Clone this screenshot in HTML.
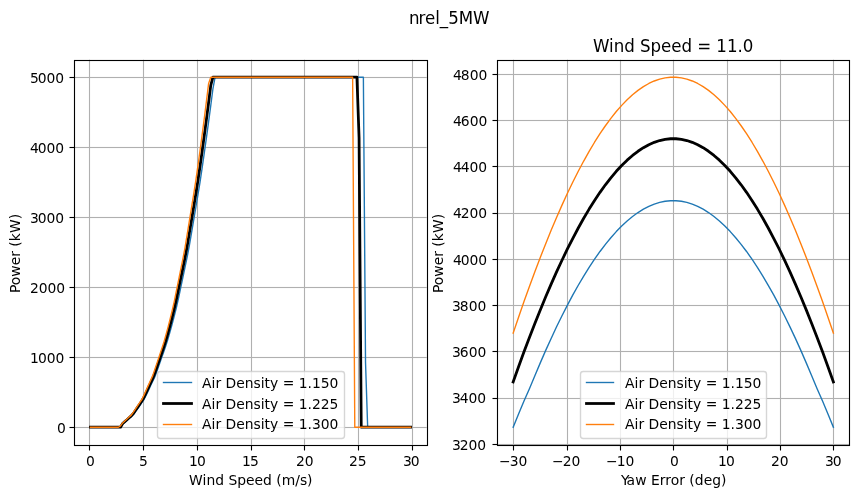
<!DOCTYPE html>
<html lang="en"><head><meta charset="utf-8"><title>nrel_5MW</title>
<style>
html,body{margin:0;padding:0;background:#fff;}
body{width:859px;height:498px;overflow:hidden;}
svg{display:block;will-change:transform;}
svg text{font-family:"DejaVu Sans","Liberation Sans",sans-serif;fill:#000;white-space:pre;}
.grid{fill:#b0b0b0;stroke:none;}
.tick{fill:#000;stroke:none;}
.fringe{fill-opacity:0.0556;}
.frame{stroke:#000;stroke-width:1.111;fill:none;stroke-linejoin:miter;}
.curve{fill:none;stroke-linejoin:round;stroke-linecap:square;}
.legbox{fill:#fff;fill-opacity:0.8;stroke:#ccc;stroke-opacity:0.8;stroke-width:1.389;stroke-linejoin:miter;}
</style></head><body>
<svg width="859" height="498" viewBox="0 0 859 498">
<rect x="0" y="0" width="859" height="498" fill="#fff"/>
<text transform="translate(0 24) scale(1 1.07)" x="409 418.5 425 435.25 439.875 448.25 458.75 473.125" y="0" font-size="16.667">nrel_5MW</text>
<g id="axes1">
<clipPath id="clip1"><rect x="74.403" y="59.722" width="352.273" height="385"/></clipPath>
<path class="grid" d="M88.944 59.722h1.111V444.722h-1.111zM142.944 59.722h1.111V444.722h-1.111zM196.944 59.722h1.111V444.722h-1.111zM250.944 59.722h1.111V444.722h-1.111zM303.944 59.722h1.111V444.722h-1.111zM357.944 59.722h1.111V444.722h-1.111zM411.944 59.722h1.111V444.722h-1.111zM74.403 426.944H426.676v1.111H74.403zM74.403 356.944H426.676v1.111H74.403zM74.403 286.944H426.676v1.111H74.403zM74.403 216.944H426.676v1.111H74.403zM74.403 146.944H426.676v1.111H74.403zM74.403 76.944H426.676v1.111H74.403z"/>
<path class="grid fringe" d="M74.403 426H426.676v1H74.403zM74.403 428H426.676v1H74.403zM74.403 356H426.676v1H74.403zM74.403 358H426.676v1H74.403zM74.403 286H426.676v1H74.403zM74.403 288H426.676v1H74.403zM74.403 216H426.676v1H74.403zM74.403 218H426.676v1H74.403zM74.403 146H426.676v1H74.403zM74.403 148H426.676v1H74.403zM74.403 76H426.676v1H74.403zM74.403 78H426.676v1H74.403z"/>
<g clip-path="url(#clip1)">
<polyline class="curve" stroke="#1f77b4" stroke-width="1.389" points="90.415,427.222 92.564,427.222 94.714,427.222 96.863,427.222 99.012,427.222 101.162,427.222 103.311,427.222 105.46,427.222 107.61,427.222 109.759,427.222 111.908,427.222 114.058,427.222 116.207,427.222 118.356,427.222 120.506,427.222 122.655,424.142 124.804,422.268 126.954,420.394 129.103,418.52 131.252,416.646 133.401,414.764 135.551,411.673 137.7,408.582 139.849,405.491 141.999,402.4 144.148,399.309 146.297,394.921 148.447,390.362 150.596,385.803 152.745,381.244 154.895,376.684 157.044,370.921 159.193,364.779 161.343,358.636 163.492,352.493 165.641,346.35 167.791,339.568 169.94,332.146 172.089,324.367 174.238,316.182 176.388,307.587 178.537,297.996 180.686,287.784 182.836,277.573 184.985,267.361 187.134,257.15 189.284,245.965 191.433,233.261 193.582,220.556 195.732,207.852 197.881,195.148 200.03,182.05 202.18,167.617 204.329,152.759 206.478,137.451 208.627,121.695 210.777,105.473 212.926,88.778 215.075,77.222 217.225,77.222 219.374,77.222 221.523,77.222 223.673,77.222 225.822,77.222 227.971,77.222 230.121,77.222 232.27,77.222 234.419,77.222 236.569,77.222 238.718,77.222 240.867,77.222 243.017,77.222 245.166,77.222 247.315,77.222 249.464,77.222 251.614,77.222 253.763,77.222 255.912,77.222 258.062,77.222 260.211,77.222 262.36,77.222 264.51,77.222 266.659,77.222 268.808,77.222 270.958,77.222 273.107,77.222 275.256,77.222 277.406,77.222 279.555,77.222 281.704,77.222 283.854,77.222 286.003,77.222 288.152,77.222 290.301,77.222 292.451,77.222 294.6,77.222 296.749,77.222 298.899,77.222 301.048,77.222 303.197,77.222 305.347,77.222 307.496,77.222 309.645,77.222 311.795,77.222 313.944,77.222 316.093,77.222 318.243,77.222 320.392,77.222 322.541,77.222 324.691,77.222 326.84,77.222 328.989,77.222 331.138,77.222 333.288,77.222 335.437,77.222 337.586,77.222 339.736,77.222 341.885,77.222 344.034,77.222 346.184,77.222 348.333,77.222 350.482,77.222 352.632,77.222 354.781,77.222 356.93,77.222 359.08,77.222 361.229,77.222 363.378,77.222 365.527,362.43 367.677,427.222 369.826,427.222 371.975,427.222 374.125,427.222 376.274,427.222 378.423,427.222 380.573,427.222 382.722,427.222 384.871,427.222 387.021,427.222 389.17,427.222 391.319,427.222 393.469,427.222 395.618,427.222 397.767,427.222 399.917,427.222 402.066,427.222 404.215,427.222 406.364,427.222 408.514,427.222 410.663,427.222"/>
<polyline class="curve" stroke="#000000" stroke-width="2.778" points="90.415,427.222 92.564,427.222 94.714,427.222 96.863,427.222 99.012,427.222 101.162,427.222 103.311,427.222 105.46,427.222 107.61,427.222 109.759,427.222 111.908,427.222 114.058,427.222 116.207,427.222 118.356,427.222 120.506,427.222 122.655,423.524 124.804,421.61 126.954,419.696 129.103,417.783 131.252,415.869 133.401,413.416 135.551,410.259 137.7,407.102 139.849,403.945 141.999,400.789 144.148,397.006 146.297,392.35 148.447,387.693 150.596,383.037 152.745,378.381 154.895,373.077 157.044,366.803 159.193,360.53 161.343,354.256 163.492,347.983 165.641,341.328 167.791,333.833 169.94,325.967 172.089,317.685 174.238,308.979 176.388,299.406 178.537,288.977 180.686,278.548 182.836,268.119 184.985,257.69 187.134,246.367 189.284,233.392 191.433,220.417 193.582,207.443 195.732,194.468 197.881,180.99 200.03,166.21 202.18,150.987 204.329,135.289 206.478,119.133 208.627,102.48 210.777,85.354 212.926,77.222 215.075,77.222 217.225,77.222 219.374,77.222 221.523,77.222 223.673,77.222 225.822,77.222 227.971,77.222 230.121,77.222 232.27,77.222 234.419,77.222 236.569,77.222 238.718,77.222 240.867,77.222 243.017,77.222 245.166,77.222 247.315,77.222 249.464,77.222 251.614,77.222 253.763,77.222 255.912,77.222 258.062,77.222 260.211,77.222 262.36,77.222 264.51,77.222 266.659,77.222 268.808,77.222 270.958,77.222 273.107,77.222 275.256,77.222 277.406,77.222 279.555,77.222 281.704,77.222 283.854,77.222 286.003,77.222 288.152,77.222 290.301,77.222 292.451,77.222 294.6,77.222 296.749,77.222 298.899,77.222 301.048,77.222 303.197,77.222 305.347,77.222 307.496,77.222 309.645,77.222 311.795,77.222 313.944,77.222 316.093,77.222 318.243,77.222 320.392,77.222 322.541,77.222 324.691,77.222 326.84,77.222 328.989,77.222 331.138,77.222 333.288,77.222 335.437,77.222 337.586,77.222 339.736,77.222 341.885,77.222 344.034,77.222 346.184,77.222 348.333,77.222 350.482,77.222 352.632,77.222 354.781,77.222 356.93,77.222 359.08,137.68 361.229,427.222 363.378,427.222 365.527,427.222 367.677,427.222 369.826,427.222 371.975,427.222 374.125,427.222 376.274,427.222 378.423,427.222 380.573,427.222 382.722,427.222 384.871,427.222 387.021,427.222 389.17,427.222 391.319,427.222 393.469,427.222 395.618,427.222 397.767,427.222 399.917,427.222 402.066,427.222 404.215,427.222 406.364,427.222 408.514,427.222 410.663,427.222"/>
<polyline class="curve" stroke="#ff7f0e" stroke-width="1.389" points="90.415,427.222 92.564,427.222 94.714,427.222 96.863,427.222 99.012,427.222 101.162,427.222 103.311,427.222 105.46,427.222 107.61,427.222 109.759,427.222 111.908,427.222 114.058,427.222 116.207,427.222 118.356,427.222 120.506,425.853 122.655,422.931 124.804,420.978 126.954,419.026 129.103,417.074 131.252,415.122 133.401,412.121 135.551,408.901 137.7,405.681 139.849,402.461 141.999,399.241 144.148,394.631 146.297,389.881 148.447,385.132 150.596,380.383 152.745,375.633 154.895,369.249 157.044,362.85 159.193,356.451 161.343,350.052 163.492,343.579 165.641,336.049 167.791,328.13 169.94,319.795 172.089,311.02 174.238,301.593 176.388,290.956 178.537,280.318 180.686,269.681 182.836,259.043 184.985,247.791 187.134,234.557 189.284,221.323 191.433,208.088 193.582,194.854 195.732,181.131 197.881,166.057 200.03,150.52 202.18,134.489 204.329,117.983 206.478,100.956 208.627,83.449 210.777,77.222 212.926,77.222 215.075,77.222 217.225,77.222 219.374,77.222 221.523,77.222 223.673,77.222 225.822,77.222 227.971,77.222 230.121,77.222 232.27,77.222 234.419,77.222 236.569,77.222 238.718,77.222 240.867,77.222 243.017,77.222 245.166,77.222 247.315,77.222 249.464,77.222 251.614,77.222 253.763,77.222 255.912,77.222 258.062,77.222 260.211,77.222 262.36,77.222 264.51,77.222 266.659,77.222 268.808,77.222 270.958,77.222 273.107,77.222 275.256,77.222 277.406,77.222 279.555,77.222 281.704,77.222 283.854,77.222 286.003,77.222 288.152,77.222 290.301,77.222 292.451,77.222 294.6,77.222 296.749,77.222 298.899,77.222 301.048,77.222 303.197,77.222 305.347,77.222 307.496,77.222 309.645,77.222 311.795,77.222 313.944,77.222 316.093,77.222 318.243,77.222 320.392,77.222 322.541,77.222 324.691,77.222 326.84,77.222 328.989,77.222 331.138,77.222 333.288,77.222 335.437,77.222 337.586,77.222 339.736,77.222 341.885,77.222 344.034,77.222 346.184,77.222 348.333,77.222 350.482,77.222 352.632,77.222 354.781,427.222 356.93,427.222 359.08,427.222 361.229,427.222 363.378,427.222 365.527,427.222 367.677,427.222 369.826,427.222 371.975,427.222 374.125,427.222 376.274,427.222 378.423,427.222 380.573,427.222 382.722,427.222 384.871,427.222 387.021,427.222 389.17,427.222 391.319,427.222 393.469,427.222 395.618,427.222 397.767,427.222 399.917,427.222 402.066,427.222 404.215,427.222 406.364,427.222 408.514,427.222 410.663,427.222"/>
</g>
<path class="tick" d="M88.944 445.5h1.111v5h-1.111zM142.944 445.5h1.111v5h-1.111zM196.944 445.5h1.111v5h-1.111zM250.944 445.5h1.111v5h-1.111zM303.944 445.5h1.111v5h-1.111zM357.944 445.5h1.111v5h-1.111zM411.944 445.5h1.111v5h-1.111zM69.5 426.944h5v1.111h-5zM69.5 356.944h5v1.111h-5zM69.5 286.944h5v1.111h-5zM69.5 216.944h5v1.111h-5zM69.5 146.944h5v1.111h-5zM69.5 76.944h5v1.111h-5z"/>
<path class="tick fringe" d="M69.5 426H73.944v1H69.5zM69.5 428H73.944v1H69.5zM69.5 356H73.944v1H69.5zM69.5 358H73.944v1H69.5zM69.5 286H73.944v1H69.5zM69.5 288H73.944v1H69.5zM69.5 216H73.944v1H69.5zM69.5 218H73.944v1H69.5zM69.5 146H73.944v1H69.5zM69.5 148H73.944v1H69.5zM69.5 76H73.944v1H69.5zM69.5 78H73.944v1H69.5z"/>
<rect class="frame" x="74.5" y="60.5" width="353" height="385"/>
<g class="xticklabels">
<text x="86" y="466" font-size="13.889">0</text>
<text x="139" y="466" font-size="13.889">5</text>
<text x="189 196.875" y="466" font-size="13.889">10</text>
<text x="242 249.875" y="466" font-size="13.889">15</text>
<text x="296 304.75" y="466" font-size="13.889">20</text>
<text x="349 357.75" y="466" font-size="13.889">25</text>
<text x="403 410.75" y="466" font-size="13.889">30</text>
</g><g class="yticklabels">
<text x="57" y="433" font-size="13.889">0</text>
<text x="30 37.875 46.625 55.375" y="363" font-size="13.889">1000</text>
<text x="30 38.75 47.5 56.25" y="293" font-size="13.889">2000</text>
<text x="30 37.75 46.5 55.25" y="223" font-size="13.889">3000</text>
<text x="30 37.75 46.5 55.25" y="153" font-size="13.889">4000</text>
<text x="30 37.75 46.5 55.25" y="83" font-size="13.889">5000</text>
</g>
<text x="189 202.5 206.375 215.125 224 228.375 237.125 246 254.5 263 271.875 276.25 281.75 295.25 299.875 307" y="485" font-size="13.889">Wind Speed (m/s)</text>
<text transform="translate(20 293) rotate(-90)" x="0 7.875 16.375 27.75 36.25 42 46.375 51.875 60 73.75" y="0" font-size="13.889">Power (kW)</text>
<g class="legend">
<rect class="legbox" x="157.5" y="371.5" width="187" height="67" rx="2.778" ry="2.778"/>
<path class="curve" stroke="#1f77b4" stroke-width="1.389" d="M163.5 382.5H191.5"/>
<text x="202 211.5 215.375 221.125 225.5 236.25 244.75 253.5 260.625 264.5 270 278.25 282.625 294.25 298.625 307.5 311.875 320.75 329.5" y="388" font-size="13.889">Air Density = 1.150</text>
<path class="curve" stroke="#000000" stroke-width="2.778" d="M163.5 403.5H191.5"/>
<text x="202 211.5 215.375 221.125 225.5 236.25 244.75 253.5 260.625 264.5 270 278.25 282.625 294.25 298.625 307.5 311.875 320.625 329.375" y="409" font-size="13.889">Air Density = 1.225</text>
<path class="curve" stroke="#ff7f0e" stroke-width="1.389" d="M163.5 424.5H191.5"/>
<text x="202 211.5 215.375 221.125 225.5 236.25 244.75 253.5 260.625 264.5 270 278.25 282.625 294.25 298.625 307.5 311.875 320.625 329.375" y="429" font-size="13.889">Air Density = 1.300</text>
</g>
</g>
<g id="axes2">
<clipPath id="clip2"><rect x="497.13" y="59.722" width="352.273" height="385"/></clipPath>
<path class="grid" d="M512.944 59.722h1.111V444.722h-1.111zM566.944 59.722h1.111V444.722h-1.111zM619.944 59.722h1.111V444.722h-1.111zM672.944 59.722h1.111V444.722h-1.111zM726.944 59.722h1.111V444.722h-1.111zM779.944 59.722h1.111V444.722h-1.111zM832.944 59.722h1.111V444.722h-1.111zM497.13 443.944H849.403v1.111H497.13zM497.13 397.944H849.403v1.111H497.13zM497.13 350.944H849.403v1.111H497.13zM497.13 304.944H849.403v1.111H497.13zM497.13 258.944H849.403v1.111H497.13zM497.13 212.944H849.403v1.111H497.13zM497.13 165.944H849.403v1.111H497.13zM497.13 119.944H849.403v1.111H497.13zM497.13 73.944H849.403v1.111H497.13z"/>
<path class="grid fringe" d="M497.13 443H849.403v1H497.13zM497.13 445H849.403v1H497.13zM497.13 397H849.403v1H497.13zM497.13 399H849.403v1H497.13zM497.13 350H849.403v1H497.13zM497.13 352H849.403v1H497.13zM497.13 304H849.403v1H497.13zM497.13 306H849.403v1H497.13zM497.13 258H849.403v1H497.13zM497.13 260H849.403v1H497.13zM497.13 212H849.403v1H497.13zM497.13 214H849.403v1H497.13zM497.13 165H849.403v1H497.13zM497.13 167H849.403v1H497.13zM497.13 119H849.403v1H497.13zM497.13 121H849.403v1H497.13zM497.13 73H849.403v1H497.13zM497.13 75H849.403v1H497.13z"/>
<g clip-path="url(#clip2)">
<polyline class="curve" stroke="#1f77b4" stroke-width="1.389" points="513.142,427.222 518.57,413.91 523.998,401.064 529.426,388.684 534.854,375.66 540.282,362.882 545.71,350.389 551.138,338.412 556.566,326.821 561.994,315.754 567.422,305.097 572.85,294.938 578.278,285.274 583.706,276.044 589.133,267.359 594.561,259.174 599.989,251.472 605.417,244.321 610.845,237.721 616.273,231.586 621.701,225.988 627.129,220.95 632.557,216.473 637.985,212.556 643.413,209.189 648.841,206.359 654.269,204.096 659.697,202.399 665.125,201.267 670.552,200.701 675.98,200.701 681.408,201.267 686.836,202.399 692.264,204.096 697.692,206.359 703.12,209.189 708.548,212.556 713.976,216.473 719.404,220.95 724.832,225.988 730.26,231.586 735.688,237.721 741.116,244.321 746.543,251.472 751.971,259.174 757.399,267.359 762.827,276.044 768.255,285.274 773.683,294.938 779.111,305.097 784.539,315.754 789.967,326.821 795.395,338.412 800.823,350.389 806.251,362.882 811.679,375.66 817.107,388.684 822.535,401.064 827.962,413.91 833.39,427.222"/>
<polyline class="curve" stroke="#000000" stroke-width="2.778" points="513.142,381.86 518.57,366.688 523.998,351.845 529.426,337.452 534.854,323.427 540.282,309.901 545.71,296.77 551.138,284.132 556.566,271.913 561.994,260.224 567.422,248.968 572.85,238.278 578.278,228.004 583.706,218.271 589.133,209.103 594.561,200.422 599.989,192.322 605.417,184.802 610.845,177.776 616.273,171.315 621.701,165.442 627.129,160.158 632.557,155.449 637.985,151.274 643.413,147.696 648.841,144.715 654.269,142.33 659.697,140.541 665.125,139.349 670.552,138.752 675.98,138.752 681.408,139.349 686.836,140.541 692.264,142.33 697.692,144.715 703.12,147.696 708.548,151.274 713.976,155.449 719.404,160.158 724.832,165.442 730.26,171.315 735.688,177.776 741.116,184.802 746.543,192.322 751.971,200.422 757.399,209.103 762.827,218.271 768.255,228.004 773.683,238.278 779.111,248.968 784.539,260.224 789.967,271.913 795.395,284.132 800.823,296.77 806.251,309.901 811.679,323.427 817.107,337.452 822.535,351.845 827.962,366.688 833.39,381.86"/>
<polyline class="curve" stroke="#ff7f0e" stroke-width="1.389" points="513.142,333.14 518.57,317.156 523.998,301.56 529.426,286.446 534.854,271.689 540.282,257.439 545.71,243.64 551.138,230.312 556.566,217.444 561.994,205.11 567.422,193.288 572.85,182.04 578.278,171.24 583.706,161.043 589.133,151.372 594.561,142.237 599.989,133.712 605.417,125.753 610.845,118.337 616.273,111.54 621.701,105.362 627.129,99.789 632.557,94.773 637.985,90.385 643.413,86.624 648.841,83.49 654.269,80.983 659.697,79.102 665.125,77.849 670.552,77.222 675.98,77.222 681.408,77.849 686.836,79.102 692.264,80.983 697.692,83.49 703.12,86.624 708.548,90.385 713.976,94.773 719.404,99.789 724.832,105.362 730.26,111.54 735.688,118.337 741.116,125.753 746.543,133.712 751.971,142.237 757.399,151.372 762.827,161.043 768.255,171.24 773.683,182.04 779.111,193.288 784.539,205.11 789.967,217.444 795.395,230.312 800.823,243.64 806.251,257.439 811.679,271.689 817.107,286.446 822.535,301.56 827.962,317.156 833.39,333.14"/>
</g>
<path class="tick" d="M512.944 445.5h1.111v5h-1.111zM566.944 445.5h1.111v5h-1.111zM619.944 445.5h1.111v5h-1.111zM672.944 445.5h1.111v5h-1.111zM726.944 445.5h1.111v5h-1.111zM779.944 445.5h1.111v5h-1.111zM832.944 445.5h1.111v5h-1.111zM492.5 443.944h5v1.111h-5zM492.5 397.944h5v1.111h-5zM492.5 350.944h5v1.111h-5zM492.5 304.944h5v1.111h-5zM492.5 258.944h5v1.111h-5zM492.5 212.944h5v1.111h-5zM492.5 165.944h5v1.111h-5zM492.5 119.944h5v1.111h-5zM492.5 73.944h5v1.111h-5z"/>
<path class="tick fringe" d="M492.5 443H496.944v1H492.5zM492.5 445H496.944v1H492.5zM492.5 397H496.944v1H492.5zM492.5 399H496.944v1H492.5zM492.5 350H496.944v1H492.5zM492.5 352H496.944v1H492.5zM492.5 304H496.944v1H492.5zM492.5 306H496.944v1H492.5zM492.5 258H496.944v1H492.5zM492.5 260H496.944v1H492.5zM492.5 212H496.944v1H492.5zM492.5 214H496.944v1H492.5zM492.5 165H496.944v1H492.5zM492.5 167H496.944v1H492.5zM492.5 119H496.944v1H492.5zM492.5 121H496.944v1H492.5zM492.5 73H496.944v1H492.5zM492.5 75H496.944v1H492.5z"/>
<rect class="frame" x="497.5" y="60.5" width="352" height="385"/>
<g class="xticklabels">
<text x="499 509.625 518.375" y="466" font-size="13.889">−30</text>
<text x="552 562.625 571.375" y="466" font-size="13.889">−20</text>
<text x="606 616.625 625.5" y="466" font-size="13.889">−10</text>
<text x="670" y="466" font-size="13.889">0</text>
<text x="718 725.875" y="466" font-size="13.889">10</text>
<text x="771 779.75" y="466" font-size="13.889">20</text>
<text x="825 832.75" y="466" font-size="13.889">30</text>
</g><g class="yticklabels">
<text x="452 459.75 468.5 477.25" y="450" font-size="13.889">3200</text>
<text x="452 459.75 468.5 477.25" y="403" font-size="13.889">3400</text>
<text x="452 459.75 468.625 477.375" y="357" font-size="13.889">3600</text>
<text x="452 459.75 468.625 477.375" y="311" font-size="13.889">3800</text>
<text x="453 460.75 469.5 478.25" y="265" font-size="13.889">4000</text>
<text x="453 460.75 469.5 478.25" y="218" font-size="13.889">4200</text>
<text x="453 460.75 469.5 478.25" y="172" font-size="13.889">4400</text>
<text x="453 460.75 469.625 478.375" y="126" font-size="13.889">4600</text>
<text x="453 460.75 469.625 478.375" y="80" font-size="13.889">4800</text>
</g>
<text x="621 626.5 635.125 646.5 650.875 659.625 665.125 670.625 679.125 684.875 689.25 694.75 703.625 712.125 721" y="485" font-size="13.889">Yaw Error (deg)</text>
<text transform="translate(443 293) rotate(-90)" x="0 7.875 16.375 27.75 36.25 42 46.375 51.875 60 73.75" y="0" font-size="13.889">Power (kW)</text>
<text transform="translate(0 52) scale(1 1.07)" x="593 609.125 613.75 624.25 634.75 640 650.5 661 671.25 681.5 692 697.25 711.125 716.375 727 737.625 742.875" y="0" font-size="16.667">Wind Speed = 11.0</text>
<g class="legend">
<rect class="legbox" x="580.5" y="371.5" width="186" height="67" rx="2.778" ry="2.778"/>
<path class="curve" stroke="#1f77b4" stroke-width="1.389" d="M586.5 382.5H613.5"/>
<text x="625 634.5 638.375 644.125 648.5 659.25 667.75 676.5 683.625 687.5 693 701.25 705.625 717.25 721.625 730.5 734.875 743.75 752.5" y="388" font-size="13.889">Air Density = 1.150</text>
<path class="curve" stroke="#000000" stroke-width="2.778" d="M586.5 403.5H613.5"/>
<text x="625 634.5 638.375 644.125 648.5 659.25 667.75 676.5 683.625 687.5 693 701.25 705.625 717.25 721.625 730.5 734.875 743.625 752.375" y="409" font-size="13.889">Air Density = 1.225</text>
<path class="curve" stroke="#ff7f0e" stroke-width="1.389" d="M586.5 424.5H613.5"/>
<text x="625 634.5 638.375 644.125 648.5 659.25 667.75 676.5 683.625 687.5 693 701.25 705.625 717.25 721.625 730.5 734.875 743.625 752.375" y="429" font-size="13.889">Air Density = 1.300</text>
</g>
</g>
</svg>
</body></html>
